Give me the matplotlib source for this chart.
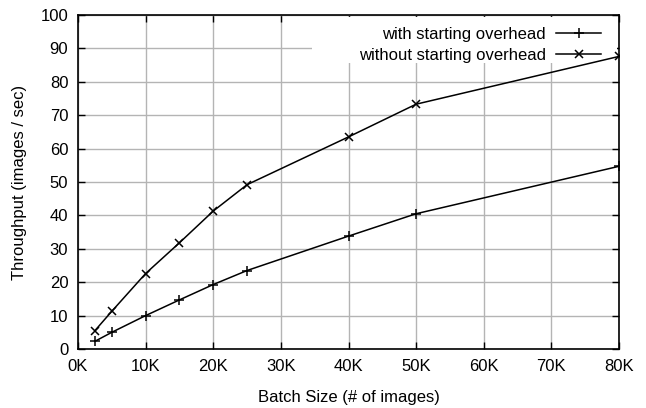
import matplotlib
matplotlib.use("Agg")
import matplotlib.pyplot as plt
from matplotlib.patches import Rectangle

plt.rcParams['font.family'] = ['Liberation Sans', 'DejaVu Sans']

# batch sizes (thousands of images)
batch_k = [2.5, 5, 10, 15, 20, 25, 40, 50, 80]
with_overhead = [2.3, 5.0, 10.0, 14.7, 19.3, 23.5, 33.8, 40.5, 54.7]
without_overhead = [5.5, 11.3, 22.6, 31.8, 41.3, 49.2, 63.5, 73.3, 87.6]
x_ticks = [0, 10, 20, 30, 40, 50, 60, 70, 80]
x_labels = ["0K", "10K", "20K", "30K", "40K", "50K", "60K", "70K", "80K"]
y_ticks = [0, 10, 20, 30, 40, 50, 60, 70, 80, 90, 100]

fig = plt.figure(figsize=(6.46, 4.08), dpi=100)
ax = fig.add_axes([78 / 646, 1 - 349 / 408, (619 - 78) / 646, (349 - 15) / 408])

ax.plot(batch_k, with_overhead, color='black', lw=1.1, marker='+',
        markersize=7, markeredgewidth=1.1, label='with starting overhead', zorder=3)
ax.plot(batch_k, without_overhead, color='black', lw=1.1, marker='x',
        markersize=6, markeredgewidth=1.1, label='without starting overhead', zorder=3)

ax.set_xlim(0, 80)
ax.set_ylim(0, 100)
ax.set_xticks(x_ticks)
ax.set_xticklabels(x_labels)
ax.set_yticks(y_ticks)
ax.grid(True, color='#b4b4b4', lw=1)
ax.set_axisbelow(True)
ax.tick_params(direction='in', length=5, width=1, top=True, right=True,
               labelsize=12, pad=7, colors='black')
for s in ax.spines.values():
    s.set_linewidth(1.2)

ax.set_xlabel('Batch Size (# of images)', fontsize=12, labelpad=12)
ax.set_ylabel('Throughput (images / sec)', fontsize=12, labelpad=10)

# white key background, like gnuplot's opaque key box
bg = Rectangle(((312 - 78) / 541, (349 - 63) / 334), (617 - 312) / 541,
               (63 - 17) / 334, transform=ax.transAxes,
               facecolor='white', edgecolor='none', zorder=1)
ax.add_patch(bg)

leg = ax.legend(loc='upper right', bbox_to_anchor=((601 - 78) / 541, 1 - 12 / 334),
                markerfirst=False, fontsize=12, frameon=False,
                handlelength=2.7, handletextpad=0.6, labelspacing=0.35,
                borderpad=0, borderaxespad=0)
for t in leg.get_texts():
    t.set_ha('right')

fig.savefig('out.png', dpi=100)
